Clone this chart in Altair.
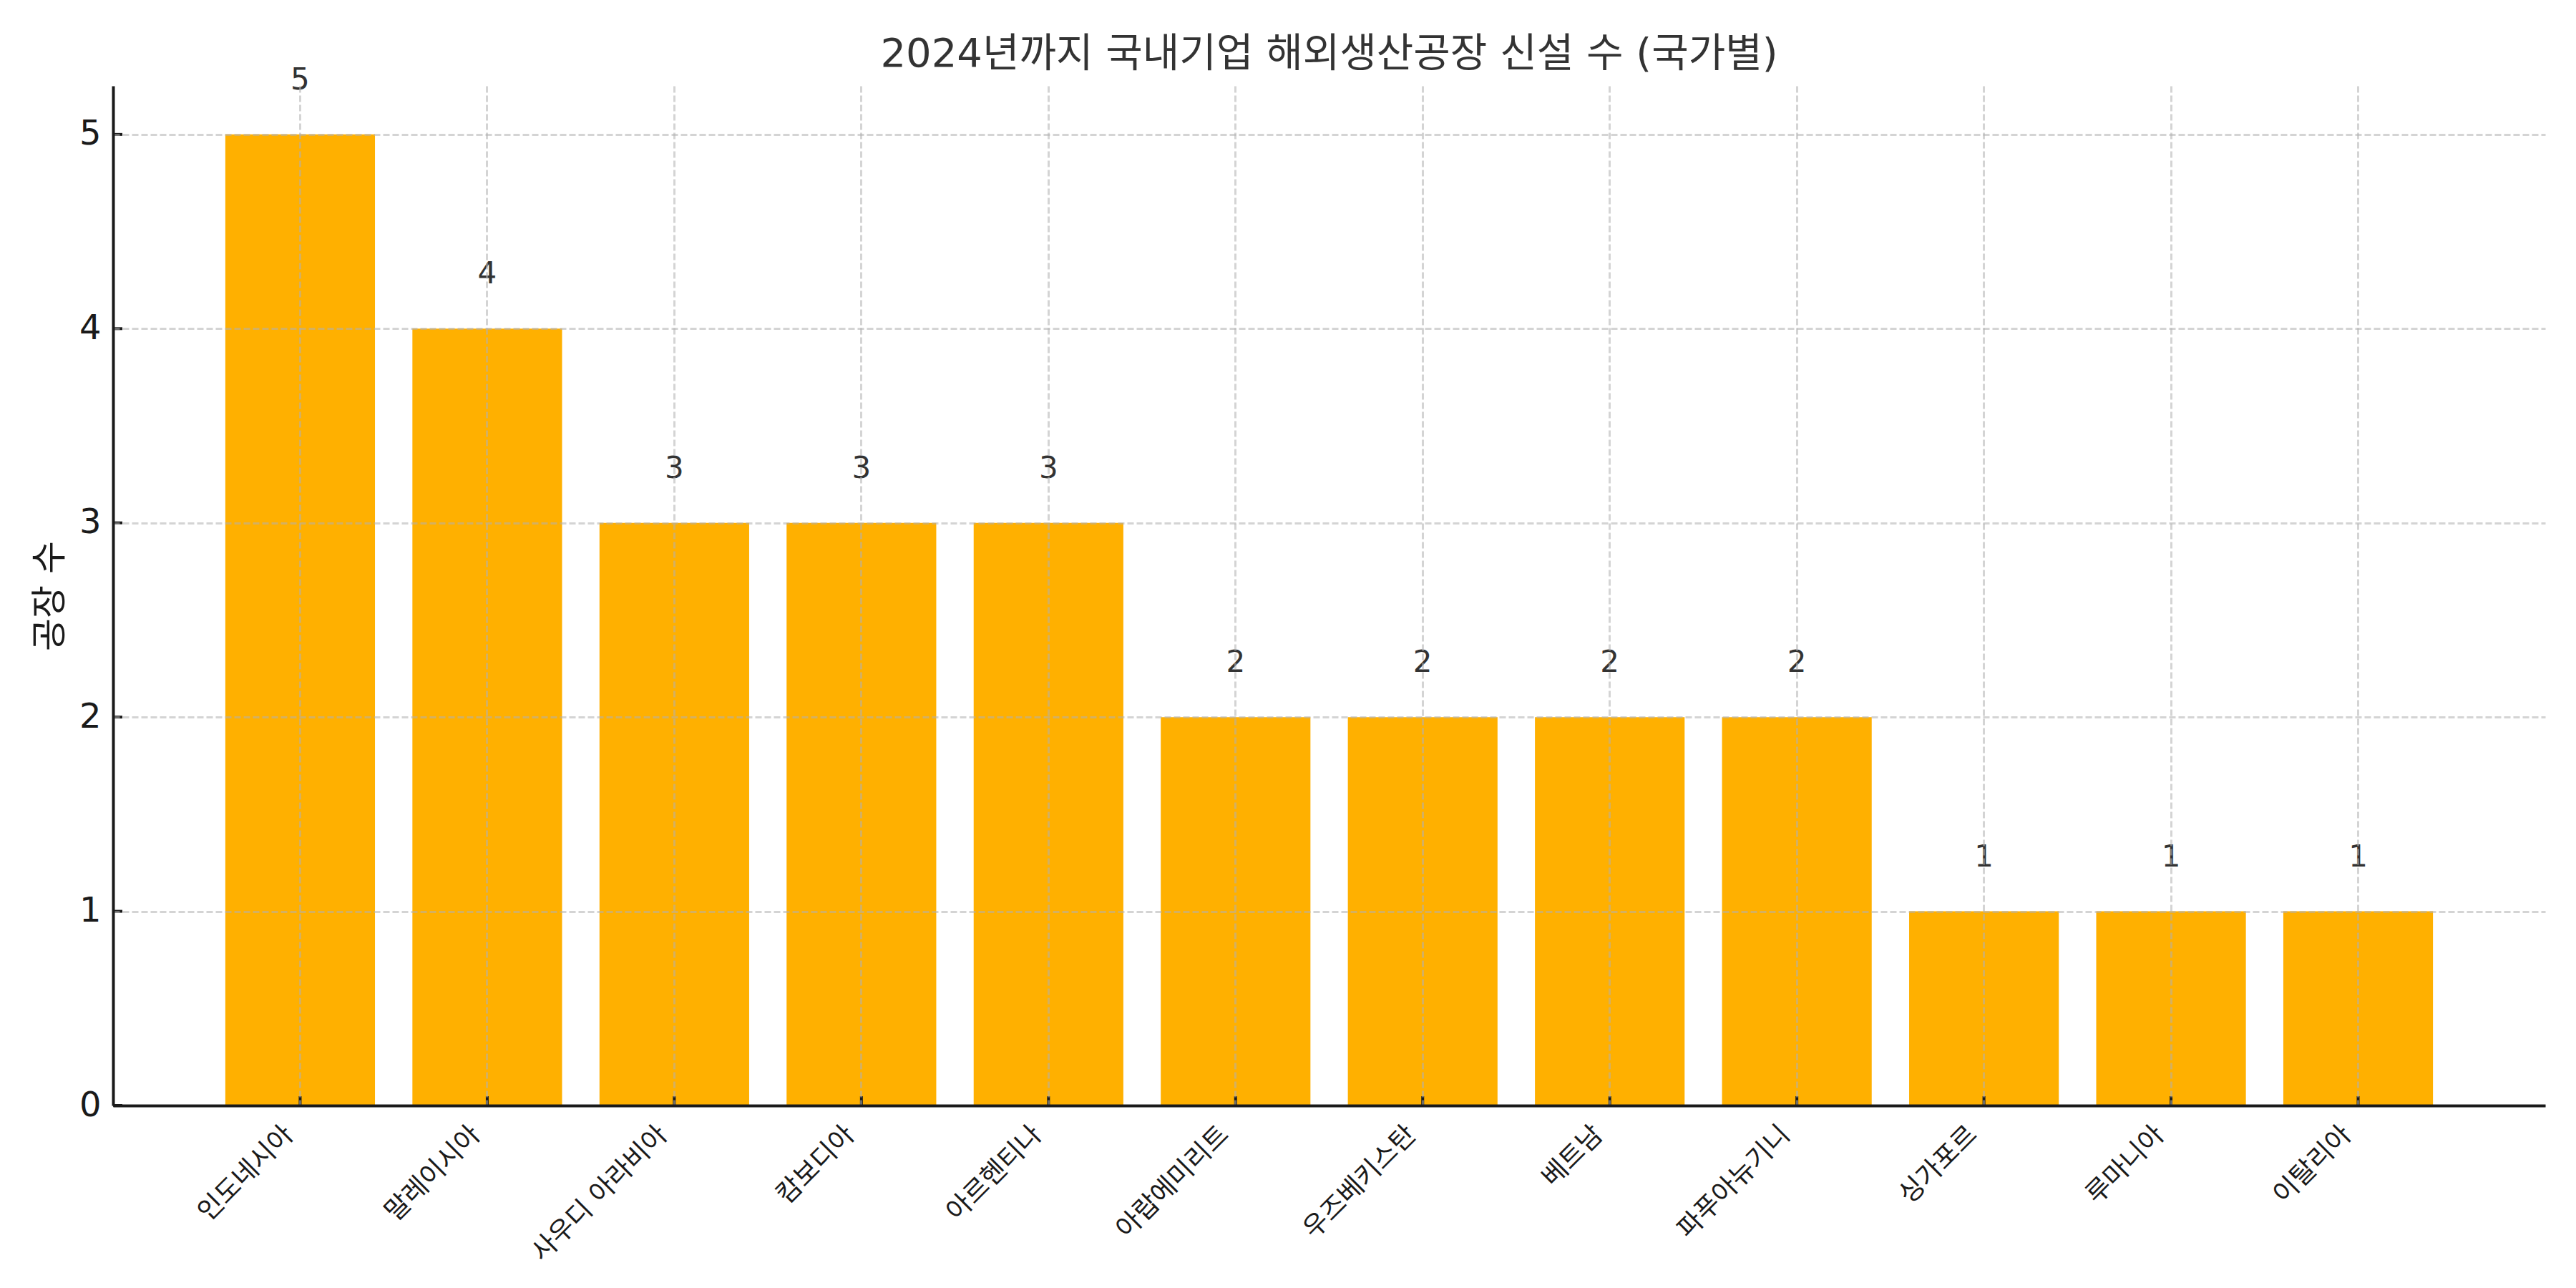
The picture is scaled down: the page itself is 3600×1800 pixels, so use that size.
import altair as alt
import pandas as pd

# ---- data ----
countries = ["인도네시아", "말레이시아", "사우디 아라비아", "캄보디아", "아르헨티나",
             "아랍에미리트", "우즈베키스탄", "베트남", "파푸아뉴기니",
             "싱가포르", "루마니아", "이탈리아"]
counts = [5, 4, 3, 3, 3, 2, 2, 2, 2, 1, 1, 1]
y_ticks = [0, 1, 2, 3, 4, 5]
title_text = "2024년까지 국내기업 해외생산공장 신설 수 (국가별)"
y_title = "공장 수"

df = pd.DataFrame({"country": countries, "count": counts})
tick_df = pd.DataFrame({"country": [countries[0]] * len(y_ticks), "count": y_ticks})

W, H = 3399, 1425
FONT = "DejaVu Sans, Noto Sans CJK KR, sans-serif"
INK = "#1a1a1a"

x_scale = alt.Scale(domain=countries, paddingInner=0.2, paddingOuter=0.6)
y_scale = alt.Scale(domain=[0, 5.25], nice=False, zero=True)

grid_kw = dict(grid=True, gridColor="#b0b0b0", gridOpacity=0.55,
               gridDash=[9, 4], gridWidth=3)

x_axis = alt.Axis(title=None, labelAngle=-45, labelFontSize=37, labelColor=INK,
                  labelFont=FONT, ticks=False, tickSize=0, labelPadding=22,
                  labelOffset=-28, labelLimit=0, domainColor=INK, domainWidth=4,
                  bandPosition=0.5, zindex=1, **grid_kw)
y_axis = alt.Axis(title=y_title, titleFontSize=50, titleFont=FONT, titleColor=INK,
                  titleFontWeight="normal", titlePadding=15, values=y_ticks,
                  format="d", labelFontSize=48, labelFont=FONT, labelColor=INK,
                  labelPadding=17, ticks=False, tickSize=0, domainColor=INK,
                  domainWidth=4, zindex=1, **grid_kw)

X = alt.X("country:N", scale=x_scale, axis=x_axis, sort=countries)
Y = alt.Y("count:Q", scale=y_scale, axis=y_axis)

base = alt.Chart(df)

bars = base.mark_bar(color="#FFB000").encode(x=X, y=Y)

xticks = base.mark_rule(color=INK, strokeWidth=4).encode(
    x=X,
    y=alt.value(H - 13),
    y2=alt.value(H),
)

yticks = alt.Chart(tick_df).mark_rule(color=INK, strokeWidth=4).encode(
    y=Y,
    x=alt.value(0),
    x2=alt.value(13),
)

labels = base.mark_text(
    fontSize=42, color="#333333", baseline="bottom", font=FONT, dy=-54
).encode(
    x=X,
    y=Y,
    text=alt.Text("count:Q", format="d"),
)

chart = alt.layer(bars, xticks, yticks, labels).properties(
    width=W,
    height=H,
    title=alt.TitleParams(text=title_text, fontSize=56, font=FONT, color="#333333",
                          fontWeight="normal", anchor="middle", frame="group",
                          offset=10, dy=24),
    autosize=alt.AutoSizeParams(type="none"),
    padding={"left": 150, "top": 112, "right": 35, "bottom": 250},
).configure(background="white").configure_view(stroke=None)

chart.save("out.html", embed_options={"renderer": "svg", "actions": False})
